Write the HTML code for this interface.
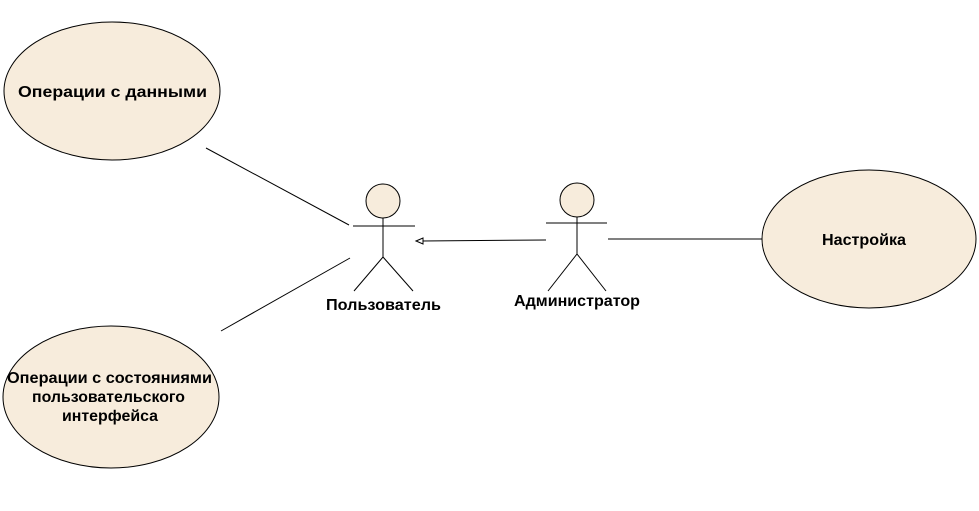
<!DOCTYPE html>
<html><head><meta charset="utf-8"><style>
html,body{margin:0;padding:0;background:#fff;width:979px;height:511px;overflow:hidden}
svg text{font-family:"Liberation Sans",sans-serif;font-weight:bold;font-size:16px;fill:#000}
</style></head><body>
<svg width="979" height="511" viewBox="0 0 979 511" xmlns="http://www.w3.org/2000/svg">
<g fill="#f7ecdc" stroke="#000" stroke-width="1">
<ellipse cx="112" cy="91" rx="108" ry="69"/>
<ellipse cx="111" cy="397" rx="108" ry="71"/>
<ellipse cx="869" cy="239" rx="107" ry="69"/>
</g>
<g stroke="#000" stroke-width="1" fill="none">
<line x1="206" y1="148" x2="349" y2="225"/>
<line x1="221" y1="331" x2="350" y2="258"/>
<line x1="608" y1="239" x2="762" y2="239"/>
<line x1="546" y1="240" x2="422" y2="241"/>
<polygon points="416,241 423,238 423,244" fill="#fff"/>
<circle cx="383" cy="201" r="17" fill="#f7ecdc"/>
<line x1="353" y1="226" x2="415" y2="226"/>
<line x1="383" y1="218" x2="383" y2="257"/>
<line x1="383" y1="257" x2="354" y2="291"/>
<line x1="383" y1="257" x2="413" y2="291"/>
<circle cx="577" cy="200" r="17" fill="#f7ecdc"/>
<line x1="546" y1="223" x2="607" y2="223"/>
<line x1="577" y1="217" x2="577" y2="254"/>
<line x1="577" y1="254" x2="548" y2="291"/>
<line x1="577" y1="254" x2="606" y2="291"/>
</g>
<text x="18" y="97" textLength="189" lengthAdjust="spacingAndGlyphs">Операции с данными</text>
<text x="7" y="383" textLength="205" lengthAdjust="spacingAndGlyphs">Операции с состояниями</text>
<text x="32" y="402" textLength="153" lengthAdjust="spacingAndGlyphs">пользовательского</text>
<text x="62" y="421" textLength="96" lengthAdjust="spacingAndGlyphs">интерфейса</text>
<text x="822" y="245" textLength="84" lengthAdjust="spacingAndGlyphs">Настройка</text>
<text x="326" y="310" textLength="115" lengthAdjust="spacingAndGlyphs">Пользователь</text>
<text x="514" y="306" textLength="126" lengthAdjust="spacingAndGlyphs">Администратор</text>
</svg>
</body></html>
